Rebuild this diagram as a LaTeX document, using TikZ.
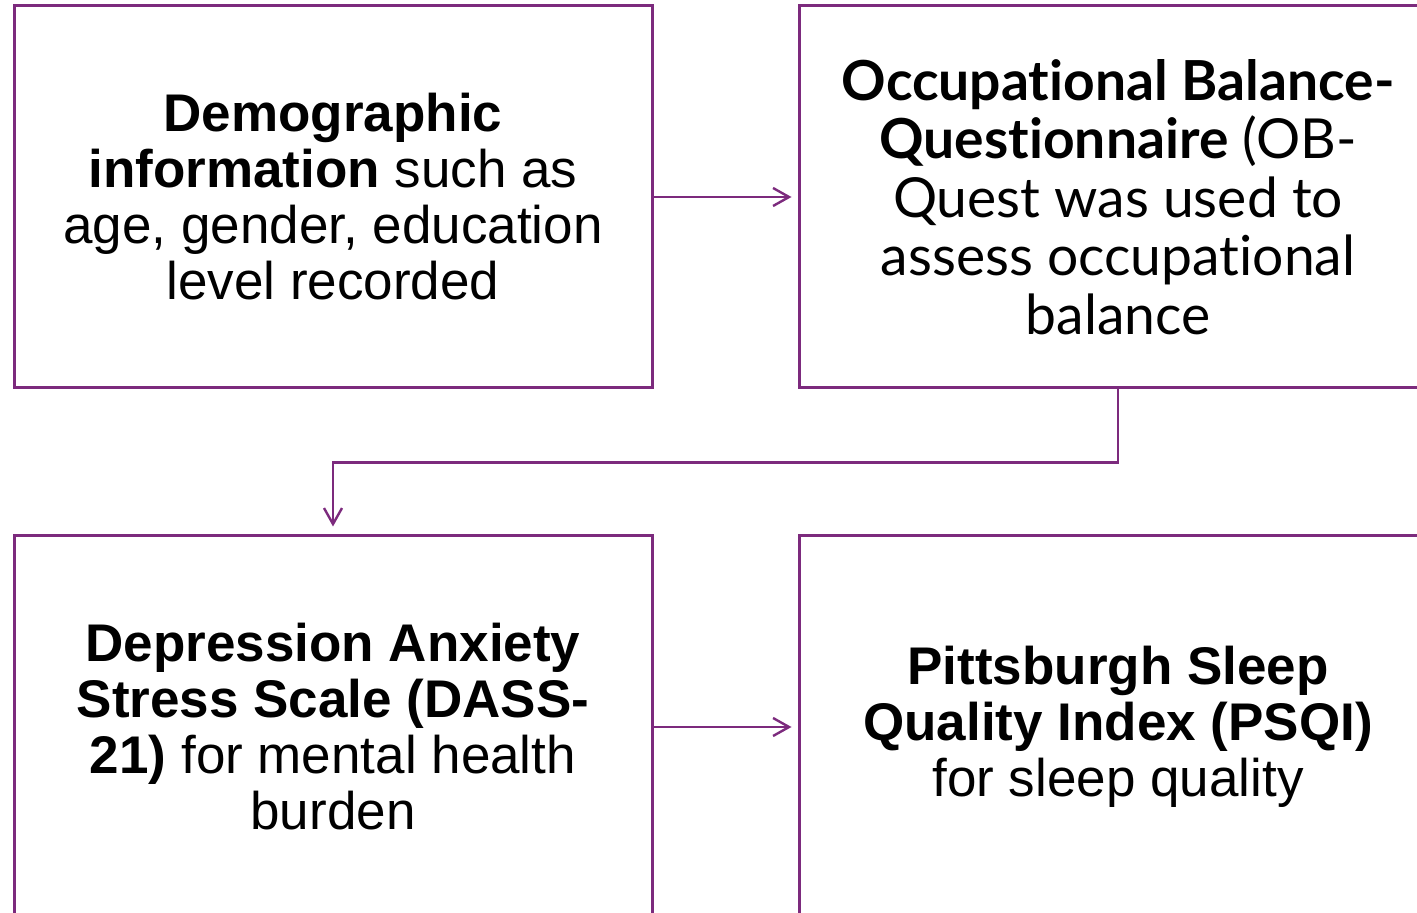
\documentclass[tikz,border=0pt]{standalone}
\usepackage{fontspec}
\setmainfont{Liberation Sans}
\newfontfamily\obqfont[Ligatures=NoCommon]{Lato}
\usetikzlibrary{arrows.meta}
\definecolor{plum}{RGB}{124,42,125}
\begin{document}
\begin{tikzpicture}[
  x=0.5pt,
  y=-0.5pt,
  box/.style={draw=plum,line width=1.5pt,rectangle,
    minimum width=319pt,minimum height=191pt,inner sep=0pt,
    align=center,font=\fontsize{26.5}{28}\selectfont},
  flow/.style={draw=plum,line width=1.2pt,-{Straight Barb[length=8pt,width=9pt]}}
]
  \useasboundingbox (0,0) rectangle (1417,913);
  \clip (0,0) rectangle (1417,913);

  % Four survey instruments.
  \node[box] (demo) at (333,197) {\textbf{Demographic}\\
    \textbf{information} such as\\ age, gender, education\\ level recorded};
  \node[box,font=\obqfont\fontsize{27.6}{29.3}\selectfont] (obq) at (1118,197)
    {\textbf{Occupational Balance-}\\ \textbf{Questionnaire} (OB-\\
    Quest was used to\\ assess occupational\\ balance};
  \node[box] (dass) at (333,727) {\textbf{Depression Anxiety}\\
    \textbf{Stress Scale (DASS-}\\ \textbf{21)} for mental health\\ burden};
  \node[box] (psqi) at (1118,727) {\textbf{Pittsburgh Sleep}\\
    \textbf{Quality Index (PSQI)}\\ for sleep quality};

  % Connectors.
  \draw[flow,shorten >=3pt] (demo.east) -- (obq.west);
  \draw[flow,shorten >=4pt] (obq.south) -- ++(0,-36.5pt) -| (dass.north);
  \draw[flow,shorten >=3pt] (dass.east) -- (psqi.west);
\end{tikzpicture}
\end{document}
